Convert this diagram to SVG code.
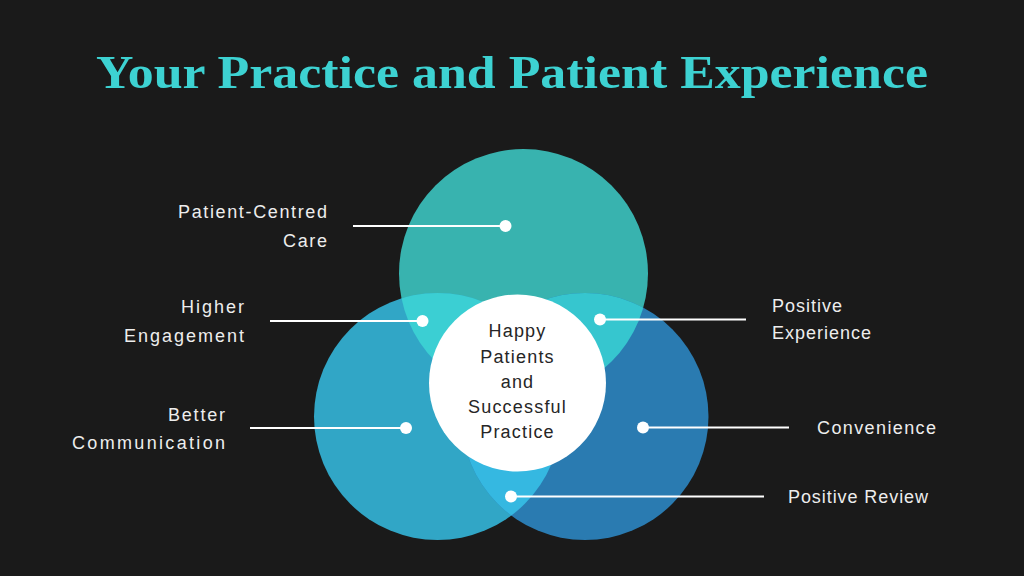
<svg xmlns="http://www.w3.org/2000/svg" width="1024" height="576" viewBox="0 0 1024 576">
<style>
.title{font-family:"Liberation Serif","DejaVu Serif",serif;font-weight:bold;font-size:46px;fill:#3DD2D2;}
.lbl{font-family:"Liberation Sans","Arial",sans-serif;font-size:18px;fill:#EDEDED;}
.ctr{font-family:"Liberation Sans","Arial",sans-serif;font-size:18px;fill:#262626;letter-spacing:1.2px;text-anchor:middle;}
.ln{stroke:#FFFFFF;stroke-width:2;fill:none;}
.dot{fill:#FFFFFF;}
</style>
<defs>
<clipPath id="cTop"><circle cx="523.5" cy="273.5" r="124.5"/></clipPath>
<clipPath id="cLeft"><circle cx="437.5" cy="416.5" r="123.5"/></clipPath>
</defs>
<rect width="1024" height="576" fill="#1A1A1A"/>
<text class="title" x="96" y="88" textLength="832" lengthAdjust="spacingAndGlyphs">Your Practice and Patient Experience</text>
<g id="circle-top"><circle cx="523.5" cy="273.5" r="124.5" fill="#38B3AF"/></g>
<g id="circle-left"><circle cx="437.5" cy="416.5" r="123.5" fill="#31A6C6"/></g>
<g id="circle-right"><circle cx="585" cy="416.5" r="123.5" fill="#2A7BB1"/></g>
<g id="overlaps">
<circle cx="437.5" cy="416.5" r="123.5" fill="#3BCFD3" clip-path="url(#cTop)"/>
<circle cx="585" cy="416.5" r="123.5" fill="#36C6CF" clip-path="url(#cTop)"/>
<circle cx="585" cy="416.5" r="123.5" fill="#35B8E1" clip-path="url(#cLeft)"/>
<g clip-path="url(#cTop)"><circle cx="585" cy="416.5" r="123.5" fill="#3BCFD3" clip-path="url(#cLeft)"/></g>
</g>
<g id="center">
<circle cx="517.5" cy="383" r="88.5" fill="#FFFFFF"/>
<text class="ctr" x="517.5" y="337">Happy</text>
<text class="ctr" x="517.5" y="362.5">Patients</text>
<text class="ctr" x="517.5" y="388">and</text>
<text class="ctr" x="517.5" y="413">Successful</text>
<text class="ctr" x="517.5" y="438">Practice</text>
</g>
<g id="connectors">
<line class="ln" x1="353" y1="226" x2="505" y2="226"/><circle class="dot" cx="505.5" cy="226" r="6"/>
<line class="ln" x1="270" y1="321" x2="422" y2="321"/><circle class="dot" cx="422.5" cy="321" r="6"/>
<line class="ln" x1="600" y1="319.5" x2="746" y2="319.5"/><circle class="dot" cx="600" cy="319.5" r="6"/>
<line class="ln" x1="250" y1="428" x2="406" y2="428"/><circle class="dot" cx="406" cy="428" r="6"/>
<line class="ln" x1="643" y1="427.5" x2="789" y2="427.5"/><circle class="dot" cx="643" cy="427.5" r="6"/>
<line class="ln" x1="511" y1="496.5" x2="764" y2="496.5"/><circle class="dot" cx="511" cy="496.5" r="6"/>
</g>
<g id="label-patient-centred">
<text class="lbl" x="178" y="218" textLength="149" lengthAdjust="spacing">Patient-Centred</text>
<text class="lbl" x="283" y="247" textLength="44" lengthAdjust="spacing">Care</text>
</g>
<g id="label-higher-engagement">
<text class="lbl" x="181" y="313" textLength="63" lengthAdjust="spacing">Higher</text>
<text class="lbl" x="124" y="342" textLength="120" lengthAdjust="spacing">Engagement</text>
</g>
<g id="label-better-communication">
<text class="lbl" x="168" y="421" textLength="57" lengthAdjust="spacing">Better</text>
<text class="lbl" x="72" y="449" textLength="153" lengthAdjust="spacing">Communication</text>
</g>
<g id="label-positive-experience">
<text class="lbl" x="772" y="312" textLength="70" lengthAdjust="spacing">Positive</text>
<text class="lbl" x="772" y="339" textLength="99" lengthAdjust="spacing">Experience</text>
</g>
<g id="label-convenience"><text class="lbl" x="817" y="434" textLength="119" lengthAdjust="spacing">Convenience</text></g>
<g id="label-positive-review"><text class="lbl" x="788" y="503" textLength="140" lengthAdjust="spacing">Positive Review</text></g>
</svg>
